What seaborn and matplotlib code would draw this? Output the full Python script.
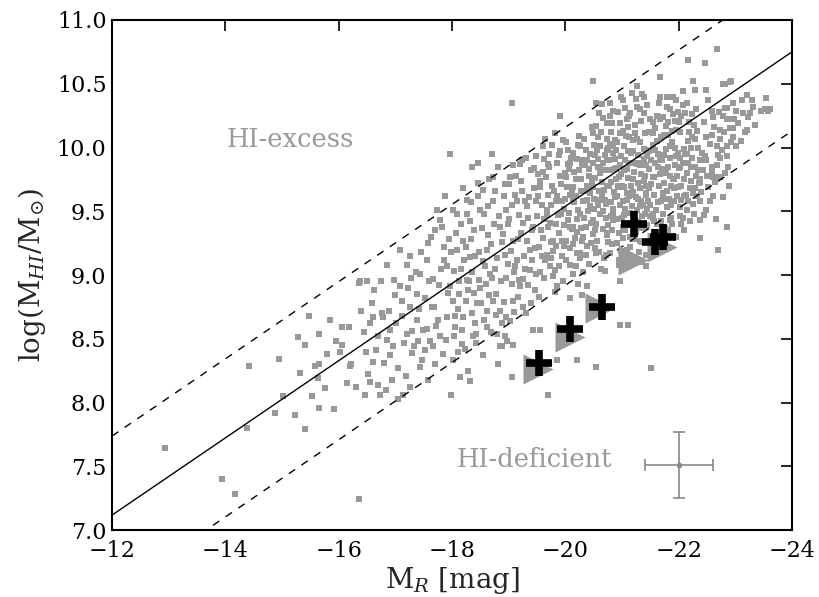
import matplotlib
matplotlib.use("Agg")
import matplotlib.pyplot as plt
import seaborn as sns
import pandas as pd

# ---------------- data ----------------
# field galaxies (M_R, log M_HI)
field_galaxies = [
    (-12.94, 7.64), (-13.94, 7.40), (-14.17, 7.28), (-14.38, 7.80), (-14.41, 8.29), (-14.94, 8.34),
    (-14.88, 7.92), (-16.35, 7.24), (-15.02, 8.05),
    (-15.23, 7.90), (-15.41, 7.79), (-15.32, 8.23), (-15.29, 8.51), (-15.47, 8.68), (-15.41, 8.45),
    (-15.59, 8.29), (-15.65, 8.30), (-15.65, 8.54), (-15.63, 8.19), (-15.53, 8.05), (-15.75, 8.11),
    (-15.65, 7.96), (-15.95, 8.48), (-16.05, 8.45), (-16.02, 8.40), (-16.06, 8.59), (-16.19, 8.59),
    (-16.22, 8.30), (-16.36, 8.94),
    (-16.20, 8.29), (-16.61, 8.32), (-16.46, 8.06), (-16.73, 8.06), (-16.70, 8.14), (-16.61, 8.67),
    (-16.38, 8.95), (-16.79, 8.67), (-16.91, 8.57), (-16.85, 8.49), (-16.96, 8.44), (-17.08, 8.91),
    (-17.20, 9.08), (-17.11, 8.80), (-17.26, 8.75), (-17.20, 8.54), (-17.38, 8.65), (-17.29, 8.39),
    (-17.43, 8.28), (-17.49, 8.57), (-17.43, 9.01), (-17.55, 9.12), (-17.64, 8.75), (-17.73, 9.51),
    (-17.79, 9.43), (-17.79, 8.52), (-17.67, 8.44), (-17.96, 9.95), (-17.85, 9.22), (-17.91, 9.07),
    (-17.96, 8.91), (-18.02, 8.80), (-17.91, 8.67), (-18.05, 8.59), (-18.02, 8.33), (-18.14, 8.20),
    (-18.17, 8.46), (-18.08, 9.48), (-18.26, 9.59), (-18.20, 9.27), (-18.32, 9.14), (-18.26, 8.96),
    (-18.38, 8.86), (-18.35, 8.70), (-18.43, 8.54), (-18.38, 9.35), (-18.35, 9.85), (-18.49, 9.51),
    (-18.55, 9.67), (-18.61, 9.20), (-18.67, 9.01), (-18.73, 8.80), (-18.61, 8.59), (-18.79, 8.54),
    (-18.85, 8.44), (-18.96, 8.67), (-18.73, 9.77), (-18.85, 9.38), (-18.96, 9.51), (-19.02, 9.77),
    (-19.08, 9.27), (-19.14, 9.12), (-19.20, 8.91), (-19.08, 8.80), (-19.26, 8.75), (-19.23, 9.90),
    (-19.32, 9.54), (-19.43, 9.38), (-19.38, 9.20), (-19.49, 9.01), (-19.55, 9.69), (-19.61, 10.01),
    (-19.67, 9.51), (-19.79, 9.27), (-19.73, 9.07), (-19.85, 8.91), (-19.55, 8.57), (-19.91, 10.25),
    (-20.02, 9.77), (-20.14, 9.59), (-20.08, 9.38), (-20.26, 9.17), (-20.14, 9.01), (-20.32, 9.90),
    (-20.38, 8.91), (-20.20, 8.33), (-19.85, 8.33), (-19.05, 10.35),
    (-18.93, 8.52), (-18.89, 8.44), (-19.08, 8.45), (-19.43, 8.57), (-20.08, 8.82), (-20.29, 8.84),
    (-20.96, 8.95), (-21.43, 9.07), (-20.96, 8.61), (-21.11, 8.61), (-21.52, 8.27), (-20.54, 8.28),
    (-18.32, 8.17), (-17.26, 8.12), (-17.05, 8.03), (-17.99, 8.06), (-19.05, 8.20), (-19.70, 8.06),
    (-20.49, 10.52), (-22.67, 10.77), (-22.46, 10.66), (-22.17, 10.69), (-21.67, 10.55), (-22.26, 10.52),
    (-22.29, 10.45), (-22.79, 10.50), (-22.90, 10.51), (-23.20, 10.41), (-23.29, 10.37), (-23.55, 10.39),
    (-23.46, 10.29), (-23.58, 10.29), (-23.14, 10.27), (-22.82, 10.31), (-22.90, 10.22), (-22.73, 10.14),
    (-22.96, 10.08), (-23.20, 10.14), (-22.67, 10.01), (-22.85, 9.93), (-22.49, 9.90), (-23.02, 10.01),
    (-22.58, 9.80), (-22.38, 9.75), (-22.73, 9.77), (-22.26, 9.64), (-22.49, 9.51), (-22.38, 9.58),
    (-22.79, 9.61), (-22.85, 9.38), (-22.38, 9.29), (-22.70, 9.20), (-22.05, 9.59), (-22.02, 9.46),
    (-22.14, 9.51), (-21.85, 9.43), (-21.73, 9.64), (-21.90, 9.75), (-22.02, 9.85), (-22.14, 9.95),
    (-22.23, 10.08), (-21.96, 10.14), (-21.85, 10.01), (-21.67, 9.90), (-21.55, 9.77), (-21.43, 9.64),
    (-21.32, 9.54), (-21.08, 9.59), (-20.96, 9.69), (-21.20, 9.75), (-21.32, 9.88), (-21.43, 9.98),
    (-21.55, 10.11), (-21.67, 10.22), (-21.79, 10.32), (-21.90, 10.40), (-22.08, 10.44), (-21.38, 10.40),
    (-21.26, 10.32), (-21.08, 10.22), (-20.96, 10.11), (-20.85, 10.01), (-20.73, 9.90), (-20.61, 9.80),
    (-20.49, 9.69), (-20.38, 9.59), (-20.26, 9.48), (-20.14, 9.38), (-20.02, 9.27), (-20.55, 10.35),
    (-20.79, 10.35), (-21.02, 10.37), (-21.26, 10.48), (-21.14, 10.27), (-20.73, 10.19), (-20.49, 10.11),
    (-20.26, 10.01), (-20.08, 9.88), (-20.38, 9.90), (-20.61, 10.01), (-20.14, 9.69), (-20.67, 9.59),
    (-20.85, 9.48), (-21.02, 9.38), (-20.73, 9.33), (-20.49, 9.43), (-20.32, 9.30), (-20.20, 9.17),
    (-20.55, 9.17), (-20.79, 9.17), (-22.38, 9.43), (-21.32, 9.27), (-21.43, 9.38), (-21.55, 9.48),
    (-22.82, 10.50), (-22.93, 10.52), (-22.49, 10.45), (-22.52, 10.37), (-22.58, 10.29), (-22.61, 10.24),
    (-23.11, 10.37), (-23.32, 10.32), (-23.52, 10.30), (-23.61, 10.30), (-22.96, 10.35), (-23.02, 10.29),
    (-22.85, 10.31), (-23.26, 10.27), (-22.79, 10.25), (-22.85, 10.22), (-22.90, 10.15), (-22.96, 10.15),
    (-23.17, 10.12), (-22.49, 10.08), (-22.58, 10.10), (-22.73, 10.07), (-22.85, 10.01), (-22.70, 9.94),
    (-22.73, 9.92), (-22.46, 9.93), (-22.58, 9.85), (-22.43, 9.82), (-22.61, 9.77), (-22.70, 9.77),
    (-22.82, 9.80), (-22.38, 9.73), (-22.52, 9.69), (-22.40, 9.65), (-22.79, 9.61), (-22.64, 9.73),
    # dense core
    (-19.52, 9.62), (-19.57, 9.35), (-19.61, 9.81), (-19.64, 9.12), (-19.68, 9.47), (-19.71, 9.95),
    (-19.74, 9.26), (-19.77, 9.70), (-19.81, 9.04), (-19.83, 9.58), (-19.86, 9.88), (-19.89, 9.33),
    (-19.93, 9.71), (-19.95, 9.15), (-19.98, 9.52), (-20.01, 10.04), (-20.04, 9.43), (-20.06, 9.83),
    (-20.09, 9.08), (-20.11, 9.64), (-20.13, 9.96), (-20.17, 9.29), (-20.19, 9.75), (-20.22, 9.51),
    (-20.24, 10.09), (-20.27, 9.37), (-20.29, 9.86), (-20.31, 9.02), (-20.34, 9.66), (-20.37, 9.98),
    (-20.39, 9.23), (-20.42, 9.78), (-20.44, 9.54), (-20.47, 10.16), (-20.49, 9.32), (-19.55, 9.02),
    (-19.59, 9.55), (-19.66, 9.77), (-19.73, 9.41), (-19.79, 9.19), (-19.85, 9.62), (-19.91, 9.97),
    (-19.97, 9.39), (-20.03, 9.69), (-20.08, 9.21), (-20.15, 9.57), (-20.21, 9.91), (-20.26, 9.13),
    (-20.33, 9.45), (-20.38, 9.70), (-20.43, 9.95), (-20.46, 9.41), (-19.62, 9.91), (-19.69, 9.63),
    (-19.76, 10.02), (-19.84, 9.23), (-19.92, 9.48), (-19.99, 9.80), (-20.05, 9.98), (-20.12, 9.36),
    (-20.18, 9.62), (-20.25, 9.82), (-20.32, 9.58), (-20.41, 9.09), (-20.48, 9.88), (-19.53, 9.22),
    (-19.63, 8.98), (-19.81, 8.87), (-19.96, 8.95), (-20.23, 8.93), (-20.36, 9.16),
    (-20.51, 9.60), (-20.53, 9.94), (-20.56, 9.27), (-20.58, 10.08), (-20.62, 9.48), (-20.64, 9.73),
    (-20.67, 10.23), (-20.69, 9.13), (-20.71, 9.56), (-20.74, 9.98), (-20.76, 9.39), (-20.78, 9.82),
    (-20.81, 10.12), (-20.83, 9.24), (-20.86, 9.65), (-20.88, 9.91), (-20.91, 9.44), (-20.93, 10.28),
    (-20.95, 9.77), (-20.98, 9.19), (-21.01, 9.58), (-21.03, 10.01), (-21.06, 9.35), (-21.09, 9.83),
    (-21.11, 10.16), (-21.14, 9.49), (-21.16, 9.70), (-21.19, 9.97), (-21.22, 9.28), (-21.24, 9.61),
    (-21.27, 10.07), (-21.29, 9.42), (-21.31, 9.86), (-21.34, 10.21), (-21.37, 9.55), (-21.39, 9.74),
    (-21.42, 9.16), (-21.44, 9.93), (-21.47, 10.12), (-21.49, 9.46), (-20.52, 9.35), (-20.57, 9.85),
    (-20.63, 9.05), (-20.68, 9.67), (-20.73, 9.31), (-20.79, 10.03), (-20.84, 9.52), (-20.89, 9.75),
    (-20.94, 9.08), (-20.99, 9.93), (-21.04, 9.69), (-21.08, 9.20), (-21.13, 9.88), (-21.18, 9.54),
    (-21.23, 10.11), (-21.28, 9.72), (-21.33, 9.37), (-21.38, 9.99), (-21.43, 9.63), (-21.48, 9.83),
    (-20.54, 10.17), (-20.61, 9.59), (-20.66, 9.88), (-20.72, 9.45), (-20.77, 9.70), (-20.82, 9.35),
    (-20.87, 10.06), (-20.92, 9.62), (-20.97, 9.86), (-21.02, 9.29), (-21.07, 10.09), (-21.12, 9.62),
    (-21.17, 9.39), (-21.21, 9.81), (-21.26, 9.51), (-21.32, 10.04), (-21.36, 9.26), (-21.41, 9.78),
    (-21.46, 9.58), (-20.59, 9.18), (-20.70, 9.94), (-20.80, 9.57), (-20.90, 9.98), (-21.00, 9.45),
    (-21.10, 9.76), (-21.20, 9.65), (-21.30, 9.18), (-21.40, 9.48), (-20.65, 10.34), (-20.85, 10.29),
    (-21.05, 10.31), (-21.25, 10.38), (-21.45, 10.33),
    (-21.51, 9.71), (-21.54, 10.02), (-21.57, 9.42), (-21.59, 9.88), (-21.62, 10.25), (-21.64, 9.57),
    (-21.67, 9.79), (-21.69, 10.08), (-21.72, 9.48), (-21.74, 9.94), (-21.77, 10.17), (-21.79, 9.66),
    (-21.82, 9.85), (-21.84, 10.30), (-21.87, 9.55), (-21.89, 10.04), (-21.92, 9.75), (-21.94, 10.21),
    (-21.97, 9.62), (-21.99, 9.96), (-22.02, 10.12), (-22.05, 9.70), (-22.08, 9.88), (-22.11, 10.27),
    (-22.14, 9.80), (-22.17, 10.05), (-22.20, 9.68), (-22.23, 9.92), (-22.27, 10.18), (-22.31, 9.78),
    (-22.35, 10.00), (-21.53, 9.30), (-21.58, 10.15), (-21.63, 9.95), (-21.68, 9.58), (-21.73, 10.24),
    (-21.78, 9.99), (-21.83, 9.60), (-21.88, 10.13), (-21.93, 9.86), (-21.98, 10.28), (-22.03, 9.53),
    (-22.09, 9.99), (-22.15, 10.35), (-22.21, 9.85), (-22.28, 10.07), (-22.33, 9.62), (-21.56, 9.63),
    (-21.61, 9.40), (-21.66, 10.35), (-21.71, 9.83), (-21.76, 9.37), (-21.81, 10.10), (-21.86, 9.45),
    (-21.91, 9.68), (-21.96, 10.37), (-22.01, 9.84), (-22.07, 9.45), (-22.13, 9.63), (-22.19, 10.20),
    (-22.25, 9.56), (-22.30, 10.30), (-22.37, 9.90),
    # intermediate luminosities
    (-17.52, 8.82), (-17.58, 9.25), (-17.61, 8.48), (-17.66, 8.97), (-17.70, 9.35), (-17.75, 8.65),
    (-17.81, 9.05), (-17.84, 8.38), (-17.88, 9.62), (-17.93, 8.86), (-17.98, 9.18), (-18.04, 8.52),
    (-18.07, 9.33), (-18.11, 8.73), (-18.16, 9.05), (-18.19, 9.68), (-18.23, 8.42), (-18.28, 8.88),
    (-18.31, 9.42), (-18.36, 9.02), (-18.40, 8.62), (-18.45, 9.72), (-18.48, 9.18), (-18.52, 8.78),
    (-18.57, 9.48), (-18.60, 8.93), (-18.64, 9.31), (-18.69, 8.55), (-18.72, 9.58), (-18.76, 9.05),
    (-18.81, 9.85), (-18.84, 8.72), (-18.88, 9.26), (-18.91, 9.62), (-18.95, 8.98), (-18.99, 9.40),
    (-19.03, 8.64), (-19.06, 9.55), (-19.10, 9.02), (-19.13, 9.78), (-19.17, 8.83), (-19.21, 9.33),
    (-19.24, 9.66), (-19.28, 9.05), (-19.31, 8.70), (-19.35, 9.45), (-19.39, 9.82), (-19.42, 9.12),
    (-19.46, 8.88), (-19.49, 9.58), (-17.55, 8.58), (-17.68, 8.75), (-17.86, 9.12), (-18.01, 9.51),
    (-18.13, 8.95), (-18.25, 9.22), (-18.42, 8.47), (-18.54, 9.11), (-18.66, 9.75), (-18.78, 8.85),
    (-18.93, 9.16), (-19.05, 8.93), (-19.19, 9.47), (-19.33, 9.27), (-19.44, 9.68), (-18.20, 8.67),
    (-18.47, 8.96), (-18.74, 9.40), (-19.00, 9.71), (-19.26, 8.97), (-19.40, 8.78), (-19.15, 9.58),
    (-18.88, 8.62), (-18.62, 8.72), (-18.33, 9.57),
    (-16.45, 8.55), (-16.52, 8.22), (-16.58, 8.78), (-16.66, 8.41), (-16.74, 8.95), (-16.80, 8.31),
    (-16.88, 8.72), (-16.94, 8.18), (-17.02, 8.62), (-17.09, 9.20), (-17.15, 8.47), (-17.22, 8.90),
    (-17.30, 8.56), (-17.36, 9.02), (-17.41, 8.73), (-17.47, 8.33), (-16.55, 8.62), (-16.99, 8.84),
    (-17.25, 9.15), (-17.40, 8.48),
    # further points in the crowded part of the cloud
    (-19.01, 9.44), (-19.04, 9.19), (-19.07, 9.86), (-19.09, 8.71), (-19.12, 9.63), (-19.16, 9.28),
    (-19.18, 8.96), (-19.22, 9.74), (-19.25, 9.41), (-19.27, 9.15), (-19.30, 9.92), (-19.34, 8.92),
    (-19.36, 9.61), (-19.41, 9.35), (-19.45, 9.84), (-19.47, 9.21), (-19.50, 9.46), (-19.54, 8.83),
    (-19.56, 9.74), (-19.60, 9.29), (-19.65, 10.07), (-19.67, 9.16), (-19.70, 9.38), (-19.72, 9.85),
    (-19.75, 9.55), (-19.78, 8.99), (-19.80, 9.66), (-19.82, 10.11), (-19.87, 9.47), (-19.88, 9.07),
    (-19.90, 9.78), (-19.94, 9.27), (-19.96, 10.06), (-20.00, 9.60), (-20.02, 9.12), (-20.07, 9.49),
    (-20.10, 9.92), (-20.14, 9.24), (-20.16, 9.81), (-20.20, 9.44), (-20.23, 10.02), (-20.28, 9.66),
    (-20.30, 9.27), (-20.35, 9.86), (-20.40, 9.50), (-20.45, 9.25), (-20.47, 9.73), (-20.50, 10.02),
    (-19.11, 9.07), (-19.29, 9.58), (-19.48, 9.93), (-19.58, 9.15), (-19.69, 9.87), (-19.83, 9.40),
    (-19.94, 9.58), (-20.04, 9.87), (-20.18, 9.07), (-20.27, 9.75), (-20.36, 9.38), (-20.44, 9.64),
    (-19.20, 9.87), (-19.37, 9.04), (-19.52, 9.79), (-19.62, 9.44), (-19.74, 9.13), (-19.88, 9.94),
    (-19.98, 9.23), (-20.09, 9.63), (-20.21, 9.34), (-20.33, 10.07), (-20.41, 9.83),
    (-20.50, 9.52), (-20.53, 9.76), (-20.55, 9.40), (-20.58, 9.91), (-20.60, 9.66), (-20.63, 10.12),
    (-20.66, 9.36), (-20.68, 9.82), (-20.70, 9.59), (-20.73, 10.07), (-20.75, 9.26), (-20.77, 9.90),
    (-20.80, 9.73), (-20.82, 10.19), (-20.85, 9.43), (-20.87, 9.61), (-20.90, 9.84), (-20.92, 10.04),
    (-20.94, 9.33), (-20.97, 9.55), (-20.99, 9.79), (-21.02, 10.13), (-21.04, 9.47), (-21.06, 9.90),
    (-21.09, 9.64), (-21.12, 10.25), (-21.14, 9.30), (-21.16, 9.96), (-21.19, 9.75), (-21.21, 9.43),
    (-21.23, 10.18), (-21.26, 9.87), (-21.28, 9.60), (-21.31, 10.30), (-21.33, 9.79), (-21.35, 9.46),
    (-21.38, 9.91), (-21.40, 10.11), (-21.43, 9.70), (-21.45, 9.39), (-21.47, 9.97), (-21.49, 10.22),
    (-20.52, 9.21), (-20.57, 9.55), (-20.62, 9.85), (-20.67, 9.50), (-20.72, 9.16), (-20.76, 10.00),
    (-20.81, 9.46), (-20.86, 9.83), (-20.91, 9.25), (-20.96, 10.19), (-21.00, 9.70), (-21.05, 9.52),
    (-21.10, 9.97), (-21.15, 9.63), (-21.20, 10.06), (-21.24, 9.34), (-21.29, 9.94), (-21.34, 9.58),
    (-21.39, 10.27), (-21.44, 9.52), (-21.48, 9.68), (-20.56, 9.98), (-20.64, 9.62), (-20.74, 9.70),
    (-20.84, 9.96), (-20.93, 9.70), (-21.03, 9.82), (-21.13, 10.08), (-21.22, 9.88), (-21.32, 9.68),
    (-21.42, 9.86), (-20.60, 10.27), (-20.78, 10.25), (-20.98, 10.40), (-21.18, 10.43), (-21.36, 10.42),
    (-20.70, 9.03), (-20.95, 9.12), (-21.15, 9.22), (-21.35, 9.10),
    (-21.50, 9.55), (-21.52, 9.90), (-21.55, 10.20), (-21.57, 9.77), (-21.60, 9.51), (-21.62, 10.05),
    (-21.65, 9.70), (-21.67, 10.40), (-21.70, 9.90), (-21.72, 9.60), (-21.75, 10.10), (-21.77, 9.80),
    (-21.80, 9.53), (-21.82, 10.20), (-21.85, 9.92), (-21.87, 9.70), (-21.90, 10.26), (-21.92, 9.58),
    (-21.95, 9.93), (-21.97, 9.78), (-22.00, 10.20), (-22.03, 9.92), (-22.05, 9.40), (-22.08, 10.33),
    (-22.10, 9.75), (-22.12, 9.95), (-22.16, 9.58), (-22.18, 10.12), (-22.22, 9.74), (-22.24, 10.26),
    (-22.27, 9.48), (-22.29, 9.85), (-22.32, 10.13), (-22.36, 9.72),
    (-21.54, 9.45), (-21.59, 9.98), (-21.64, 9.85), (-21.69, 9.42), (-21.74, 9.72), (-21.79, 10.40),
    (-21.84, 9.78), (-21.89, 9.40), (-21.94, 10.00), (-21.99, 9.69), (-22.04, 10.25), (-22.10, 9.62),
    (-22.16, 9.88), (-22.22, 10.00), (-22.28, 9.68), (-22.34, 9.82), (-21.58, 9.26), (-21.70, 9.20),
    (-21.82, 9.35), (-21.95, 9.30), (-22.10, 9.35), (-22.20, 9.42),
    (-22.42, 9.96), (-22.45, 10.20), (-22.50, 9.78), (-22.55, 10.03), (-22.60, 9.62), (-22.63, 10.16),
    (-22.68, 9.86), (-22.72, 10.28), (-22.76, 9.98), (-22.80, 10.12), (-22.87, 9.85), (-22.92, 10.04),
    (-22.98, 10.22), (-23.05, 10.19), (-23.10, 10.05), (-23.22, 10.24), (-23.35, 10.18), (-22.44, 9.47),
    (-22.55, 9.58), (-22.66, 9.44), (-22.88, 9.70),
    (-18.03, 9.03), (-18.06, 8.68), (-18.09, 9.20), (-18.12, 8.85), (-18.15, 9.40), (-18.18, 8.57),
    (-18.21, 9.12), (-18.24, 8.80), (-18.27, 9.48), (-18.30, 8.95), (-18.34, 9.28), (-18.37, 8.52),
    (-18.41, 9.15), (-18.44, 8.78), (-18.46, 9.62), (-18.50, 8.90), (-18.53, 9.37), (-18.56, 8.65),
    (-18.59, 9.07), (-18.63, 9.54), (-18.65, 8.84), (-18.68, 9.24), (-18.71, 8.98), (-18.75, 9.66),
    (-18.77, 8.69), (-18.80, 9.13), (-18.83, 9.46), (-18.86, 8.95), (-18.90, 9.32), (-18.92, 8.79),
    (-18.94, 9.71), (-18.98, 9.09), (-18.10, 8.40), (-18.29, 8.25), (-18.55, 8.37), (-18.81, 8.30),
    (-18.97, 8.48), (-18.45, 9.88), (-18.70, 9.95),
    (-16.40, 8.72), (-16.48, 8.40), (-16.56, 8.16), (-16.63, 8.88), (-16.69, 8.52), (-16.77, 8.70),
    (-16.83, 8.10), (-16.90, 8.37), (-16.97, 8.96), (-17.04, 8.27), (-17.12, 8.68), (-17.18, 8.21),
    (-17.27, 8.98), (-17.33, 8.44), (-17.39, 8.85), (-17.45, 9.18), (-17.53, 8.41), (-17.59, 8.95),
    (-17.63, 9.30), (-17.72, 8.60), (-17.77, 8.92), (-17.82, 9.38), (-17.89, 8.49), (-17.94, 9.28),
    (-16.50, 8.95), (-16.86, 9.08), (-17.14, 8.06), (-17.58, 8.18), (-17.70, 8.30), (-16.30, 8.12),
    (-16.15, 8.15), (-15.85, 8.65), (-15.80, 8.38), (-15.92, 7.95),
]
field_mr = [p[0] for p in field_galaxies]
field_hi = [p[1] for p in field_galaxies]

# HI-deficient sample: upper limits (grey triangles) and detections (black crosses)
limit_mr = [-19.52, -20.08, -20.61, -21.19, -21.71]
limit_hi = [8.26, 8.51, 8.74, 9.12, 9.22]
cross_mr = [-19.54, -20.09, -20.64, -21.21, -21.58, -21.73]
cross_hi = [8.31, 8.58, 8.75, 9.40, 9.26, 9.30]

# scaling relation and its +/- scatter band
relation_mr = [-12.0, -24.0]
relation_hi = [7.117, 10.75]
band_offset = 0.62

# typical error bar
err_mr, err_hi = [-22.0], [7.51]
err_xerr, err_yerr = [0.6], [0.26]

xticks = [-12, -14, -16, -18, -20, -22, -24]
yticks = [7.0, 7.5, 8.0, 8.5, 9.0, 9.5, 10.0, 10.5, 11.0]

# ---------------- style ----------------
sns.set_style("white")
plt.rcParams["font.family"] = ["DejaVu Serif", "DejaVu Sans"]
plt.rcParams["mathtext.fontset"] = "dejavuserif"

fig = plt.figure(figsize=(8.19, 5.97), dpi=100)
ax = fig.add_axes([0.1368, 0.1122, 0.8302, 0.8543])

df = pd.DataFrame({"MR": field_mr, "HI": field_hi})
sns.scatterplot(data=df, x="MR", y="HI", ax=ax, marker="s", s=13,
                color="#999999", linewidth=0, zorder=2)

lo = [v - band_offset for v in relation_hi]
hi = [v + band_offset for v in relation_hi]
ax.plot(relation_mr, relation_hi, color="black", lw=1.0, zorder=3)
ax.plot(relation_mr, hi, color="black", lw=1.0, dashes=(5.5, 5.5), zorder=3)
ax.plot(relation_mr, lo, color="black", lw=1.0, dashes=(5.5, 5.5), zorder=3)

ax.plot(limit_mr, limit_hi, ">", ms=21, color="#999999", mec="none", zorder=4)
ax.plot(cross_mr, cross_hi, "+", ms=19, mew=5.5, color="black", zorder=5)

ax.errorbar(err_mr, err_hi, xerr=err_xerr, yerr=err_yerr, fmt="o", ms=3,
            color="#888888", ecolor="#888888", elinewidth=1.2, capsize=4, capthick=1.2, zorder=4)

ax.text(-15.15, 10.06, "HI-excess", color="#999999", fontsize=18.5, ha="center", va="center")
ax.text(-19.45, 7.55, "HI-deficient", color="#999999", fontsize=18.5, ha="center", va="center")

ax.set_xlim(-12, -24)
ax.set_ylim(7.0, 11.0)
ax.set_xticks(xticks)
ax.set_yticks(yticks)
ax.set_xticklabels([f"\u2212{abs(t)}" for t in xticks])
ax.set_yticklabels([f"{t:.1f}" for t in yticks])
ax.tick_params(direction="in", length=8, width=1.2, top=True, right=True,
               labelsize=16, colors="black")
ax.tick_params(axis="x", pad=7)
ax.tick_params(axis="y", pad=4)
for s in ax.spines.values():
    s.set_linewidth(1.5)
    s.set_color("black")

ax.set_xlabel(r"M$_{R}$ [mag]", fontsize=20, labelpad=2)
ax.set_ylabel(r"log(M$_{HI}$/M$_{\odot}$)", fontsize=20, labelpad=6)

fig.savefig("out.png", dpi=100)
